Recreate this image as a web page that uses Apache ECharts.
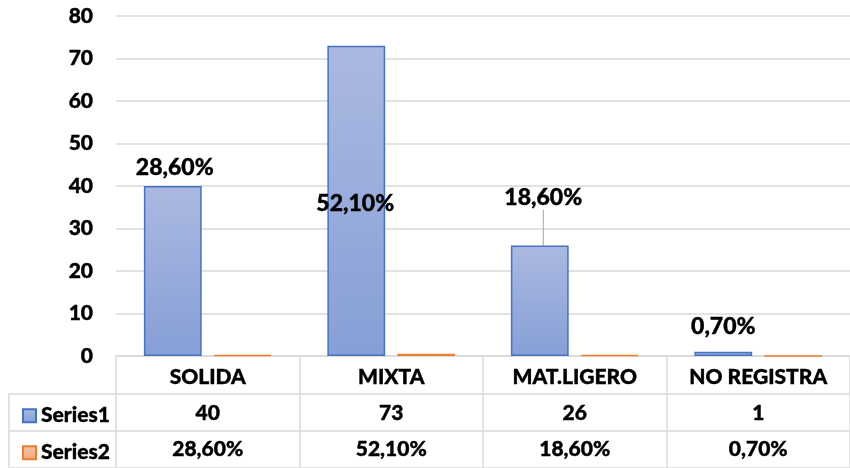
<!DOCTYPE html>
<html>
<head>
<meta charset="utf-8">
<script src="https://cdn.jsdelivr.net/npm/echarts@6/dist/echarts.min.js"></script>
<style>html,body{margin:0;padding:0;background:#fff}#c{width:850px;height:468px}</style>
</head>
<body>
<div id="c"></div>
<script>
var categories = ['SOLIDA', 'MIXTA', 'MAT.LIGERO', 'NO REGISTRA'];
var series1 = [40, 73, 26, 1];
var series2 = [0.286, 0.521, 0.186, 0.007];
var yTicks = [0, 10, 20, 30, 40, 50, 60, 70, 80];

// manual label nudges (like the hand-placed labels in the source)
var labelNudge = [[2, -2], [-1, 174], [3.5, -31], [0, -9]];

function pct(v) { return (v * 100).toFixed(2).replace('.', ',') + '%'; }

var FONT = 'Lato';
var W = 900;
var TB = { textBorderColor: '#000', textBorderWidth: 0.4 };
var chart = echarts.init(document.getElementById('c'), null, { renderer: 'canvas' });

var s1Data = series1.map(function (v, i) {
  var item = { value: v };
  if (i === 2) item.labelLine = { show: true, lineStyle: { color: '#a6a6a6', width: 1 } };
  return item;
});

function txt(size, extra) {
  var o = { fontFamily: FONT, fontWeight: W, fontSize: size, color: '#000',
            textBorderColor: TB.textBorderColor, textBorderWidth: TB.textBorderWidth };
  if (extra) for (var k in extra) o[k] = extra[k];
  return o;
}

chart.setOption({
  animation: false,
  textStyle: { fontFamily: FONT, fontWeight: W },
  grid: [
    { left: 116, right: -12, top: 16, bottom: 112 },
    { left: 9, right: -12, top: 394, height: 74 }
  ],
  legend: [
    {
      left: 17, top: 400, itemWidth: 13, itemHeight: 13, icon: 'rect',
      textStyle: txt(21), data: ['Series1']
    },
    {
      left: 17, top: 437, itemWidth: 13, itemHeight: 13, icon: 'rect',
      textStyle: txt(21), data: ['Series2']
    }
  ],
  xAxis: [
    {
      type: 'category',
      gridIndex: 0,
      data: categories,
      axisLine: { lineStyle: { color: '#d9d9d9', width: 1.5 } },
      axisTick: { show: true, length: 112, lineStyle: { color: '#d9d9d9', width: 1.5 } },
      axisLabel: Object.assign(txt(21), {
        margin: 3,
        interval: 0,
        formatter: function (val, idx) {
          return '{h|' + val + '}\n{v|' + series1[idx] + '}\n{v|' + pct(series2[idx]) + '}';
        },
        rich: {
          h: txt(21, { lineHeight: 36 }),
          v: txt(21, { lineHeight: 36 })
        }
      })
    },
    { type: 'value', gridIndex: 1, show: false, min: 0, max: 1 }
  ],
  yAxis: [
    {
      type: 'value',
      gridIndex: 0,
      min: yTicks[0],
      max: yTicks[yTicks.length - 1],
      interval: 10,
      axisLine: { show: false },
      axisTick: { show: false },
      axisLabel: Object.assign(txt(21), { margin: 23 }),
      splitLine: { lineStyle: { color: '#d9d9d9', width: 1.5 } }
    },
    {
      type: 'value',
      gridIndex: 1,
      min: 0, max: 2, interval: 1,
      axisLine: { show: true, lineStyle: { color: '#d9d9d9', width: 1.5 } },
      axisTick: { show: false },
      axisLabel: { show: false },
      splitLine: { show: true, lineStyle: { color: '#d9d9d9', width: 1.5 } }
    }
  ],
  series: [
    {
      name: 'Series1',
      type: 'bar',
      xAxisIndex: 0, yAxisIndex: 0,
      data: s1Data,
      barWidth: '31.5%',
      barGap: '21%',
      itemStyle: {
        color: new echarts.graphic.LinearGradient(0, 0, 0, 1, [
          { offset: 0, color: '#abb9e1' },
          { offset: 1, color: '#869fd6' }
        ]),
        borderColor: '#4472c4',
        borderWidth: 1.5
      },
      label: Object.assign(txt(23), {
        show: true,
        position: 'top',
        distance: 5,
        formatter: function (p) { return pct(series2[p.dataIndex]); }
      }),
      labelLine: { show: false },
      labelLayout: function (p) {
        var n = labelNudge[p.dataIndex];
        return { dx: n[0], dy: n[1] };
      }
    },
    {
      name: 'Series2',
      type: 'bar',
      xAxisIndex: 0, yAxisIndex: 0,
      data: series2,
      barWidth: '31.5%',
      barGap: '21%',
      itemStyle: {
        color: new echarts.graphic.LinearGradient(0, 0, 0, 1, [
          { offset: 0, color: '#f7c3a6' },
          { offset: 1, color: '#f4a77d' }
        ]),
        borderColor: '#ed7d31',
        borderWidth: 1.5
      }
    }
  ]
});
</script>
</body>
</html>
